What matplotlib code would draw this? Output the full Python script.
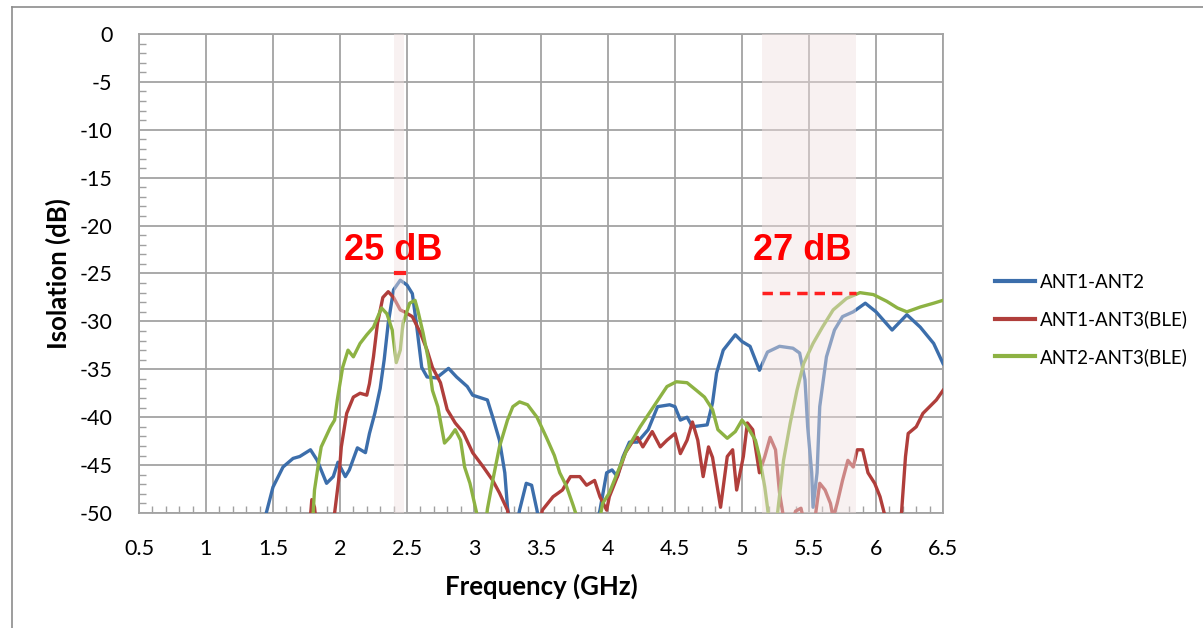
import matplotlib.pyplot as plt
from matplotlib.lines import Line2D
from matplotlib.ticker import MultipleLocator

plt.rcParams['axes.unicode_minus'] = False

# ANT1-ANT2 (values below -50 are out of view)
f_12 = [1.40, 1.45, 1.50, 1.575, 1.65, 1.70, 1.78, 1.83, 1.90, 1.95, 1.985, 2.04, 2.07, 2.13, 2.19,
        2.22, 2.26, 2.30, 2.33, 2.36, 2.40, 2.45, 2.50, 2.54, 2.57, 2.61, 2.65, 2.72, 2.81, 2.87,
        2.95, 2.99, 3.10, 3.14, 3.19, 3.23, 3.25, 3.28, 3.31, 3.34, 3.39, 3.43, 3.47, 3.50,
        3.90, 3.94, 3.99, 4.03, 4.07, 4.11, 4.16, 4.22, 4.30, 4.37, 4.46, 4.50, 4.54, 4.59, 4.63,
        4.74, 4.78, 4.81, 4.86, 4.95, 5.00, 5.06, 5.13, 5.19, 5.28, 5.38, 5.43, 5.47, 5.49, 5.52,
        5.53, 5.56, 5.58, 5.63, 5.69, 5.75, 5.83, 5.92, 6.00, 6.12, 6.23, 6.33, 6.43, 6.50]
s_12 = [-52, -50, -47.3, -45.2, -44.3, -44.1, -43.4, -44.5, -46.9, -46.2, -44.7, -46.2, -45.5, -43.2, -43.7,
        -41.7, -39.6, -37.0, -34.0, -30.2, -26.7, -25.7, -26.2, -27.1, -30.2, -34.8, -35.8, -35.9, -34.9, -35.8,
        -36.8, -37.7, -38.2, -40.0, -42.4, -45.8, -49.4, -52, -52, -49.7, -46.9, -47.1, -49.7, -52,
        -52, -49.7, -45.8, -45.5, -46.2, -44.2, -42.6, -42.6, -41.3, -38.9, -38.7, -38.9, -40.3, -40.0, -41.0,
        -40.8, -38.5, -35.4, -33.0, -31.4, -32.1, -32.6, -35.1, -33.2, -32.6, -32.8, -33.3, -36.1, -41.0, -45.8,
        -49.4, -45.8, -38.9, -33.7, -30.9, -29.5, -29.0, -28.1, -29.0, -30.9, -29.3, -30.6, -32.3, -34.4]

# ANT1-ANT3(BLE)
f_13 = [1.77, 1.79, 1.81, 1.83, 1.94, 1.96, 1.99, 2.01, 2.05, 2.10, 2.15, 2.20, 2.22, 2.25, 2.28,
        2.32, 2.36, 2.40, 2.45, 2.48, 2.54, 2.60, 2.65, 2.69, 2.75, 2.80, 2.86, 2.92, 2.99, 3.07,
        3.14, 3.19, 3.25, 3.28, 3.48, 3.51, 3.59, 3.66, 3.72, 3.79, 3.84, 3.90, 3.94, 3.99, 4.01,
        4.07, 4.13, 4.19, 4.22, 4.26, 4.33, 4.39, 4.44, 4.50, 4.54, 4.59, 4.63, 4.67, 4.71, 4.75,
        4.78, 4.84, 4.89, 4.93, 4.96, 5.01, 5.04, 5.08, 5.13, 5.17, 5.21, 5.25, 5.28, 5.31, 5.35,
        5.40, 5.44, 5.48, 5.55, 5.58, 5.62, 5.66, 5.68, 5.71, 5.75, 5.79, 5.83, 5.86, 5.90, 5.94,
        5.99, 6.03, 6.07, 6.09, 6.17, 6.19, 6.22, 6.24, 6.30, 6.35, 6.40, 6.45, 6.50]
s_13 = [-52, -48.6, -49.4, -52, -52, -50, -46.6, -43.1, -39.6, -37.9, -37.5, -37.7, -36.5, -33.7, -30.2,
        -27.5, -26.9, -27.5, -28.8, -29.0, -29.5, -31.2, -33.0, -34.8, -36.4, -39.2, -40.6, -41.6, -43.7, -45.2,
        -46.6, -47.9, -49.7, -52, -52, -49.7, -48.3, -47.6, -46.2, -46.2, -47.1, -46.6, -48.3, -49.7, -48.3,
        -46.2, -43.7, -42.4, -42.1, -43.1, -41.5, -43.1, -42.4, -41.7, -43.8, -42.4, -40.5, -42.4, -46.2, -43.1,
        -44.2, -49.4, -44.1, -43.4, -47.6, -44.1, -40.6, -41.3, -45.8, -44.1, -42.1, -43.4, -47.9, -50.5, -52,
        -49.8, -49.5, -52, -50, -46.9, -47.6, -49.0, -50.5, -49.0, -46.6, -44.5, -45.2, -43.4, -43.4, -45.8,
        -46.9, -48.3, -50.5, -52, -52, -50, -44.1, -41.7, -41.0, -39.6, -38.9, -38.2, -37.2]

# ANT2-ANT3(BLE)
f_23 = [1.78, 1.80, 1.81, 1.84, 1.86, 1.89, 1.93, 1.96, 1.98, 2.02, 2.06, 2.10, 2.15, 2.20, 2.25,
        2.31, 2.35, 2.39, 2.42, 2.45, 2.47, 2.52, 2.56, 2.58, 2.62, 2.66, 2.69, 2.73, 2.78, 2.82,
        2.86, 2.90, 2.93, 2.97, 3.02, 3.05, 3.08, 3.10, 3.14, 3.19, 3.25, 3.29, 3.34, 3.40, 3.47,
        3.54, 3.60, 3.64, 3.69, 3.74, 3.77, 3.80, 3.92, 3.96, 4.01, 4.07, 4.14, 4.24, 4.34, 4.44,
        4.51, 4.59, 4.66, 4.72, 4.78, 4.82, 4.89, 4.95, 5.00, 5.04, 5.10, 5.13, 5.17, 5.19, 5.21,
        5.25, 5.27, 5.31, 5.36, 5.41, 5.46, 5.53, 5.60, 5.68, 5.78, 5.88, 5.98, 6.08, 6.16, 6.23,
        6.33, 6.43, 6.50]
s_23 = [-52, -50, -47.6, -44.8, -43.1, -42.2, -41.0, -40.3, -38.2, -34.8, -33.0, -33.7, -32.3, -31.4, -30.6,
        -28.6, -29.2, -30.9, -34.3, -33.0, -30.2, -28.1, -27.8, -28.8, -31.2, -34.0, -37.2, -38.9, -42.7, -42.1,
        -41.3, -42.4, -45.2, -46.9, -50, -52, -52, -49.6, -46.6, -43.1, -40.3, -38.9, -38.4, -38.7, -40.0,
        -42.1, -44.0, -45.8, -47.2, -49.2, -50.5, -52, -52, -49.0, -47.9, -45.8, -43.4, -41.0, -38.9, -36.8,
        -36.3, -36.4, -37.2, -37.9, -39.2, -41.3, -42.2, -41.5, -40.3, -41.0, -42.4, -44.1, -47.3, -49.4, -52,
        -52, -49.4, -44.5, -40.6, -37.2, -34.4, -32.3, -30.6, -28.8, -27.6, -27.0, -27.2, -27.9, -28.6, -29.0,
        -28.5, -28.1, -27.8]

bands = [(2.40, 2.48), (5.15, 5.85)]

fig = plt.figure(figsize=(12.03, 6.28), dpi=100)
ax = fig.add_axes([0.1155, 0.1831, 0.6684, 0.7628])

ax.plot(f_12, s_12, color='#3C6EAB', lw=2.4, label='ANT1-ANT2', zorder=3)
ax.plot(f_13, s_13, color='#B03E3B', lw=2.4, label='ANT1-ANT3(BLE)', zorder=3)
ax.plot(f_23, s_23, color='#8DB243', lw=2.4, label='ANT2-ANT3(BLE)', zorder=3)

for lo, hi in bands:
    ax.axvspan(lo, hi, color='#f0e0e0', alpha=0.45, lw=0, zorder=4)

# isolation markers
ax.plot([2.415, 2.475], [-25, -25], color='#ff2020', lw=3, zorder=5)
ax.plot([5.15, 5.85], [-27, -27], color='#ff2020', lw=2.5, ls=(0, (3, 2)), zorder=5)
ax.text(2.40, -22.6, '25 dB', color='#ff0000', fontsize=26, fontweight='bold',
        family='Liberation Sans', ha='center', va='center', zorder=6)
ax.text(5.45, -22.6, '27 dB', color='#ff0000', fontsize=26, fontweight='bold',
        family='Liberation Sans', ha='center', va='center', zorder=6)

ax.set_xlim(0.5, 6.5)
ax.set_ylim(-50, 0)
ax.xaxis.set_major_locator(MultipleLocator(0.5))
ax.yaxis.set_major_locator(MultipleLocator(5))
ax.xaxis.set_minor_locator(MultipleLocator(0.1))
ax.yaxis.set_minor_locator(MultipleLocator(1))
ax.set_xticklabels([f'{v:g}' for v in ax.get_xticks()])
ax.grid(True, which='major', color='#a3a3a3', lw=1.3, zorder=0)
ax.set_axisbelow(True)
ax.tick_params(which='major', length=0, labelsize=15.5, colors='black')
ax.tick_params(which='minor', direction='in', length=5, color='#a0a0a0', width=1)
ax.tick_params(axis='y', pad=19)
ax.tick_params(axis='x', pad=19)
for sp in ax.spines.values():
    sp.set_color('#a3a3a3')
    sp.set_linewidth(1.3)

for lab in ax.get_xticklabels() + ax.get_yticklabels():
    lab.set_family('Lato')

ax.set_xlabel('Frequency (GHz)', fontsize=18.5, fontweight='bold', family='Lato', labelpad=10)
ax.set_ylabel('Isolation (dB)', fontsize=18.5, fontweight='bold', family='Lato')
ax.yaxis.set_label_coords(-0.084, 0.5)

leg = ax.legend(loc='center left', bbox_to_anchor=(1.044, 0.403), frameon=False,
                prop={'family': 'Lato', 'size': 13.5}, handlelength=2.1,
                handletextpad=0.3, labelspacing=1.05)
for h in leg.get_lines():
    h.set_linewidth(3)

# outer chart border (top and left)
fig.add_artist(Line2D([0.0100, 1.0], [0.989, 0.989], color='#8c8c8c', lw=1.2))
fig.add_artist(Line2D([0.0100, 0.0100], [0.0, 0.989], color='#8c8c8c', lw=1.2))

fig.savefig('out.png', dpi=100)
